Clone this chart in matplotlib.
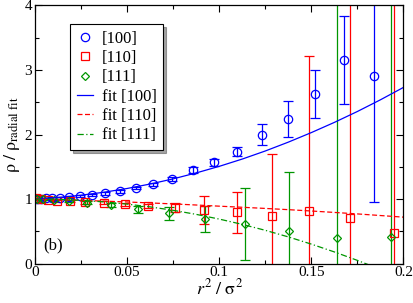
import numpy as np
import matplotlib
matplotlib.use('Agg')
import matplotlib.pyplot as plt
from matplotlib.ticker import MultipleLocator

plt.rcParams['font.family'] = ['Liberation Serif', 'DejaVu Serif']
plt.rcParams['mathtext.fontset'] = 'stix'

# [100] data
x100 = [0.0004, 0.0015, 0.0034, 0.0061, 0.0095, 0.0137, 0.0186, 0.0243, 0.0308, 0.038, 0.046,
        0.0548, 0.0643, 0.0745, 0.0856, 0.0973, 0.1099, 0.1232, 0.1373, 0.1521, 0.1677, 0.184]
y100 = [1.0, 1.0, 1.005, 1.01, 1.015, 1.02, 1.035, 1.05, 1.07, 1.09, 1.12,
        1.17, 1.23, 1.31, 1.45, 1.57, 1.73, 2.0, 2.24, 2.63, 3.15, 2.90]
e100 = [0.01, 0.01, 0.01, 0.01, 0.01, 0.015, 0.015, 0.015, 0.015, 0.02, 0.02,
        0.02, 0.02, 0.03, 0.04, 0.05, 0.07, 0.16, 0.28, 0.37, 0.68, 1.94]

# [110] data
x110 = [0.0008, 0.003, 0.0068, 0.0122, 0.019, 0.0274, 0.0373, 0.0487, 0.0616, 0.076, 0.092,
        0.1095, 0.1285, 0.149, 0.171, 0.1947]
y110 = [1.01, 1.0, 0.99, 0.975, 0.97, 0.95, 0.945, 0.92, 0.89, 0.865, 0.825,
        0.795, 0.745, 0.81, 0.71, 0.47]
e110 = [0.01, 0.01, 0.01, 0.015, 0.015, 0.02, 0.02, 0.02, 0.03, 0.07, 0.215,
        0.32, 0.95, 2.4, 4.0, 5.0]

# [111] data
x111 = [0.0011, 0.0046, 0.0103, 0.0183, 0.0285, 0.041, 0.0559, 0.073, 0.0924, 0.114,
        0.138, 0.164, 0.193]
y111 = [1.0, 0.995, 0.985, 0.97, 0.945, 0.91, 0.84, 0.78, 0.69, 0.61,
        0.51, 0.39, 0.415]
e111 = [0.01, 0.01, 0.015, 0.015, 0.02, 0.03, 0.05, 0.1, 0.2, 0.56,
        0.91, 5.0, 5.0]

# fit curves
xfit = [0.0, 0.0125, 0.025, 0.0375, 0.05, 0.0625, 0.075, 0.0875, 0.1, 0.1125, 0.125,
        0.1375, 0.15, 0.1625, 0.175, 0.1875, 0.2]
fit100 = [1.0, 1.024, 1.06, 1.106, 1.164, 1.233, 1.313, 1.405, 1.507, 1.62, 1.745,
          1.882, 2.03, 2.188, 2.357, 2.538, 2.73]
fit110 = [1.0, 0.99, 0.98, 0.968, 0.955, 0.94, 0.925, 0.908, 0.89, 0.873, 0.855,
          0.836, 0.815, 0.793, 0.77, 0.745, 0.72]
fit111 = [1.0, 0.995, 0.981, 0.956, 0.922, 0.879, 0.826, 0.763, 0.69, 0.608, 0.516,
          0.414, 0.302, 0.181, 0.05, -0.09, -0.24]

blue = '#0000ff'
red = '#ff0000'
green = '#009600'

fig = plt.figure(figsize=(4.14, 3.03), dpi=100)
ax = fig.add_axes([0.0845, 0.130, 0.890, 0.852])

ax.errorbar(x100, y100, yerr=e100, fmt='none', ecolor=blue, elinewidth=0.9, capsize=3.5, capthick=0.9)
ax.errorbar(x110, y110, yerr=e110, fmt='none', ecolor=red, elinewidth=0.9, capsize=3.5, capthick=0.9)
ax.errorbar(x111, y111, yerr=e111, fmt='none', ecolor=green, elinewidth=0.9, capsize=3.5, capthick=0.9)

ax.plot(x100, y100, 'o', ms=6, mfc='none', mec=blue, mew=0.9, label='[100]')
ax.plot(x110, y110, 's', ms=6, mfc='none', mec=red, mew=0.9, label='[110]')
ax.plot(x111, y111, 'D', ms=4, mfc='none', mec=green, mew=0.9, label='[111]')

ax.plot(xfit, fit100, '-', color=blue, lw=0.9, label='fit [100]')
ax.plot(xfit, fit110, '--', color=red, lw=0.9, dashes=(4, 2), label='fit [110]')
ax.plot(xfit, fit111, '-.', color=green, lw=0.9, dashes=(5, 2, 1, 2), label='fit [111]')

ax.set_xlim(0, 0.2)
ax.set_ylim(0, 4)
ax.xaxis.set_major_locator(MultipleLocator(0.05))
ax.xaxis.set_minor_locator(MultipleLocator(0.025))
ax.yaxis.set_major_locator(MultipleLocator(1))
ax.yaxis.set_minor_locator(MultipleLocator(0.5))
ax.set_xticklabels(['0', '0.05', '0.1', '0.15', '0.2'])
ax.set_xticks([0, 0.05, 0.1, 0.15, 0.2])
ax.set_xticklabels(['0', '0.05', '0.1', '0.15', '0.2'])
ax.tick_params(which='both', direction='in', top=True, right=True, labelsize=11, width=0.8)
ax.tick_params(which='major', length=5, pad=2)
ax.tick_params(which='minor', length=3)
for s in ax.spines.values():
    s.set_linewidth(0.9)

ax.set_xlabel(r'$r^2\ /\ \mathrm{\sigma}^2$', fontsize=13, labelpad=-1)
ax.set_ylabel(r'$\mathrm{\rho}\ /\ \mathrm{\rho}_{\mathrm{radial\ fit}}$', fontsize=13, labelpad=2)

ax.text(0.0045, 0.29, '(b)', fontsize=12, va='center', ha='left')

leg = ax.legend(loc='upper left', bbox_to_anchor=(0.095, 0.928), borderaxespad=0,
                fontsize=12, handlelength=1.0, handletextpad=0.5, labelspacing=0.2,
                borderpad=0.4, fancybox=False, shadow=True, edgecolor='black', framealpha=1)
leg.get_frame().set_linewidth(0.8)

fig.savefig('out.png', dpi=100)
